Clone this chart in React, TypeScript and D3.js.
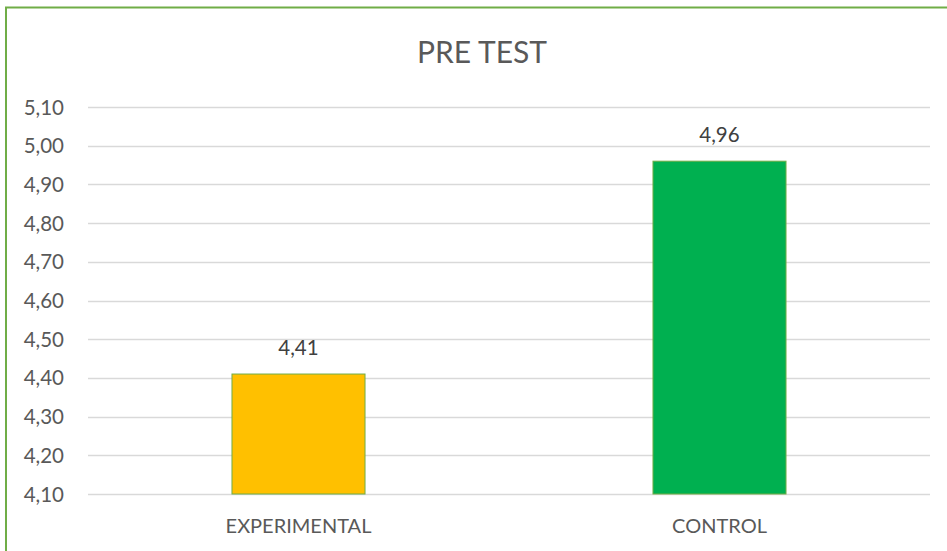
import React from "react";
import * as d3 from "d3";

const categories = ["EXPERIMENTAL", "CONTROL"];
const values = [4.41, 4.96];
const barColors = ["#FFC000", "#00B050"];
const yTicks = [4.1, 4.2, 4.3, 4.4, 4.5, 4.6, 4.7, 4.8, 4.9, 5.0, 5.1];
const title = "PRE TEST";

const width = 947;
const height = 551;
const margin = { top: 107, right: 17, bottom: 57, left: 88 };

const fmt = (v: number) => v.toFixed(2).replace(".", ",");

export default function App() {
  const x = d3
    .scaleBand<string>()
    .domain(categories)
    .range([margin.left, width - margin.right])
    .padding(0);

  const y = d3
    .scaleLinear()
    .domain([4.1, 5.1])
    .range([height - margin.bottom, margin.top]);

  const barW = x.bandwidth() * 0.316;
  const font = "Lato, 'Open Sans', sans-serif";

  return (
    <svg
      width={width}
      height={height}
      style={{ position: "absolute", left: 0, top: 0, background: "#fff" }}
      fontFamily={font}
    >
      <rect x={6} y={7.5} width={width + 10} height={height + 10} fill="#fff" stroke="#70AD47" strokeWidth={2} />
      <text x={482} y={63} textAnchor="middle" fontSize={30} fill="#595959">
        {title}
      </text>

      {yTicks.map((t) => (
        <g key={t}>
          <line
            x1={margin.left}
            x2={width - margin.right}
            y1={Math.round(y(t)) + 0.5}
            y2={Math.round(y(t)) + 0.5}
            stroke="#D9D9D9"
            strokeWidth={1.3}
          />
          <text x={64} y={y(t) + 7.5} textAnchor="end" fontSize={20.5} fill="#595959">
            {fmt(t)}
          </text>
        </g>
      ))}

      {categories.map((c, i) => {
        const cx = (x(c) ?? 0) + x.bandwidth() / 2;
        return (
          <g key={c}>
            <rect
              x={cx - barW / 2}
              y={y(values[i])}
              width={barW}
              height={y(4.1) - y(values[i])}
              fill={barColors[i]}
              stroke="#70AD47"
              strokeWidth={1}
            />
            <text x={cx} y={y(values[i]) - 19} textAnchor="middle" fontSize={20.5} fill="#404040">
              {fmt(values[i])}
            </text>
            <text x={cx} y={533} textAnchor="middle" fontSize={20} fill="#595959">
              {c}
            </text>
          </g>
        );
      })}
    </svg>
  );
}
